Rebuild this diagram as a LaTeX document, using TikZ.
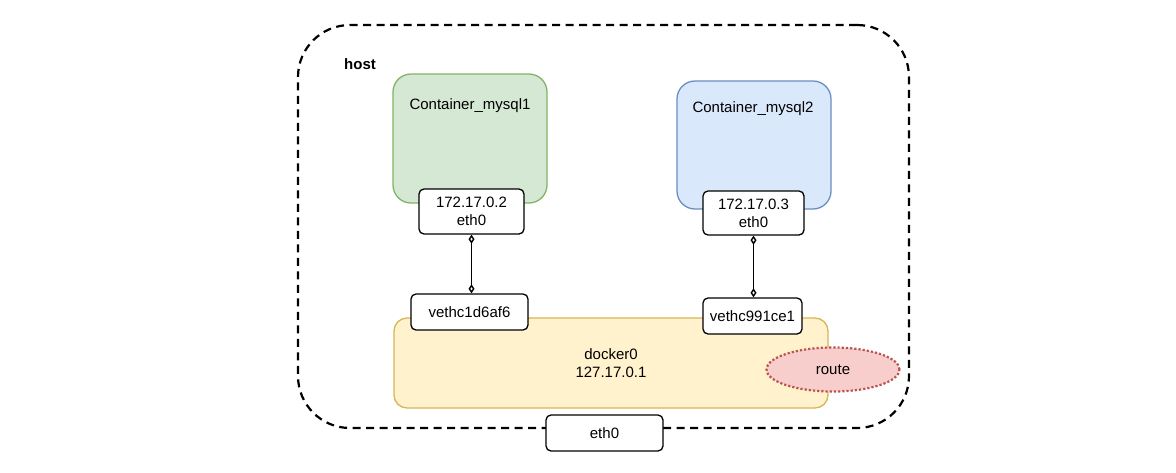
\documentclass[tikz,border=0pt]{standalone}
\usepackage{fontspec}
\setmainfont{Liberation Sans}
\usetikzlibrary{arrows.meta,shapes.geometric}
\definecolor{gfill}{HTML}{D5E8D4}
\definecolor{gline}{HTML}{82B366}
\definecolor{bfill}{HTML}{DAE8FC}
\definecolor{bline}{HTML}{6C8EBF}
\definecolor{yfill}{HTML}{FFF2CC}
\definecolor{yline}{HTML}{D6B656}
\definecolor{rfill}{HTML}{F8CECC}
\definecolor{rline}{HTML}{B85450}
\begin{document}
\begin{tikzpicture}[x=1pt,y=-1pt,
  every node/.style={font=\fontsize{15}{18}\selectfont, inner sep=0pt, align=center},
  hostbox/.style={draw=black, line width=2.2pt, dash pattern=on 8pt off 5.5pt, rounded corners=52pt},
  contbox/.style={rounded corners=18pt, line width=1.3pt},
  ifbox/.style={draw=black, fill=white, rounded corners=5pt, line width=1.3pt},
  bridge/.style={draw=yline, fill=yfill, rounded corners=13pt, line width=1.3pt},
  routeshape/.style={ellipse, draw=rline, fill=rfill, line width=2.2pt, dotted},
  link/.style={line width=1.4pt, {Diamond[open,length=9pt,width=6pt]}-{Diamond[open,length=9pt,width=6pt]}}
]
\useasboundingbox (0,0) rectangle (1176,472);
% host
\node[hostbox, minimum width=611pt, minimum height=403pt] (host) at (603.5,226.5) {};
\node[font=\fontsize{15}{18}\selectfont\bfseries] (hostlabel) at (360,64) {host};
% containers
\node[contbox, draw=gline, fill=gfill, minimum width=154pt, minimum height=129pt] (c1) at (470,138.5) {};
\node (c1t) at (470,106) {Container\_mysql1};
\node[contbox, draw=bline, fill=bfill, minimum width=154pt, minimum height=128pt] (c2) at (754,145) {};
\node (c2t) at (753,109) {Container\_mysql2};
% container interfaces
\node[ifbox, minimum width=105pt, minimum height=45pt] (ip1) at (471.5,211.5) {172.17.0.2\\eth0};
\node[ifbox, minimum width=101pt, minimum height=44pt] (ip2) at (753.5,213) {172.17.0.3\\eth0};
% bridge
\node[bridge, minimum width=434pt, minimum height=90pt] (docker) at (611,363) {docker0\\127.17.0.1};
\node[ifbox, minimum width=117pt, minimum height=36pt] (veth1) at (469.5,312) {vethc1d6af6};
\node[ifbox, minimum width=99pt, minimum height=36pt] (veth2) at (752.5,316) {vethc991ce1};
\node[routeshape, minimum width=133pt, minimum height=44pt] (route) at (833,369.5) {route};
% host eth0
\node[ifbox, minimum width=117pt, minimum height=36pt] (eth0) at (604.5,433) {eth0};
% links
\draw[link] (ip1.south) -- (ip1.south |- veth1.north);
\draw[link] (ip2.south) -- (ip2.south |- veth2.north);
\end{tikzpicture}
\end{document}
